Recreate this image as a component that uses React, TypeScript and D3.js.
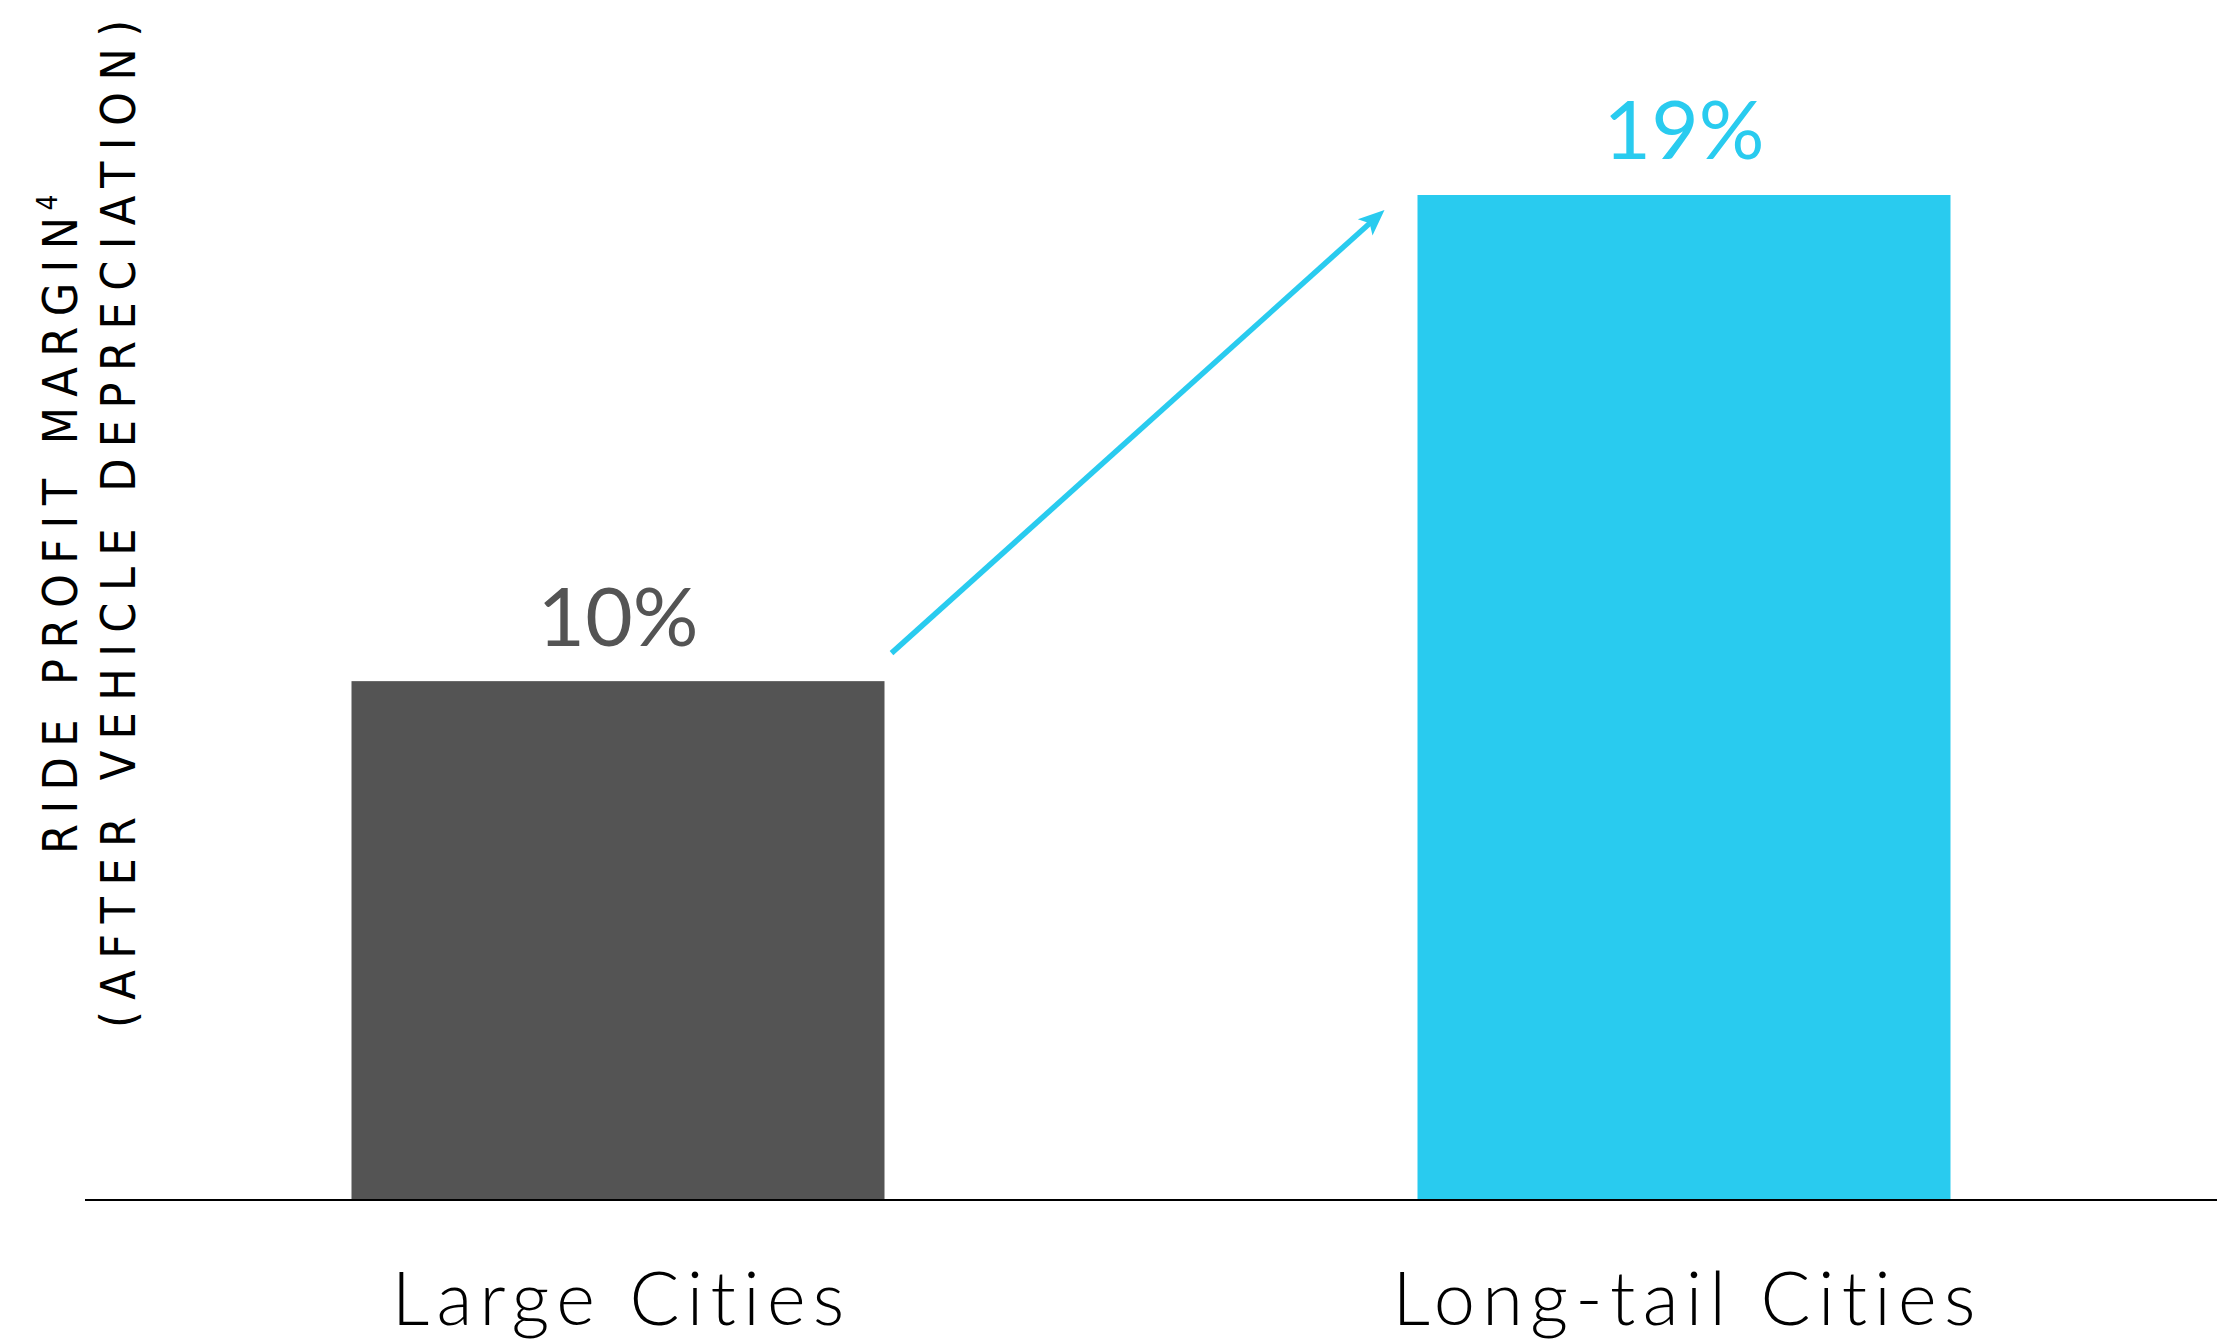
import React from "react";
import * as d3 from "d3";

const categories = ["Large Cities", "Long-tail Cities"];
const values = [9.8, 19];
const valueLabels = ["10%", "19%"];
const barColors = ["#545454", "#29CBEF"];
const yTitle1 = "RIDE PROFIT MARGIN";
const yTitle1Sup = "4";
const yTitle2 = "(AFTER VEHICLE DEPRECIATION)";

const W = 2234;
const H = 1341;

export default function App() {
  const x = d3.scaleBand<string>().domain(categories).range([85, 2217]).paddingInner(0.5).paddingOuter(0.25);
  const y = d3.scaleLinear().domain([0, 19]).range([1199, 195]);

  const b1x = x(categories[0])! + x.bandwidth();
  const b1y = y(values[0]);
  const b2x = x(categories[1])!;
  const b2y = y(values[1]);
  const start: [number, number] = [b1x + 7, b1y - 28];
  const tip: [number, number] = [b2x - 33, b2y + 15];
  const dx = tip[0] - start[0];
  const dy = tip[1] - start[1];
  const len = Math.hypot(dx, dy);
  const ux = dx / len, uy = dy / len;
  const nx = -uy, ny = ux;
  const hl = 26, hw = 11, notch = 6;
  const back: [number, number] = [tip[0] - ux * hl, tip[1] - uy * hl];
  const headPath = d3.line()([
    tip,
    [back[0] + nx * hw, back[1] + ny * hw],
    [tip[0] - ux * (hl - notch), tip[1] - uy * (hl - notch)],
    [back[0] - nx * hw, back[1] - ny * hw],
  ]) + "Z";
  const lineEnd: [number, number] = [tip[0] - ux * (hl - notch - 1), tip[1] - uy * (hl - notch - 1)];
  const catSpacing = 7.3;

  return (
    <svg width={W} height={H} style={{ position: "absolute", left: 0, top: 0, background: "#fff" }}>
      {categories.map((c, i) => (
        <rect key={c} x={x(c)} y={y(values[i])} width={x.bandwidth()} height={y(0) - y(values[i])} fill={barColors[i]} />
      ))}
      <line x1={85} x2={2217} y1={y(0) + 1} y2={y(0) + 1} stroke="#000" strokeWidth={2} />
      {categories.map((c, i) => (
        <text
          key={"v" + c}
          x={x(c)! + x.bandwidth() / 2}
          y={y(values[i]) - (i === 0 ? 35 : 36)}
          textAnchor="middle"
          fontFamily="Lato, 'Open Sans', sans-serif"
          fontSize={82}
          fill={barColors[i]}
        >
          {valueLabels[i]}
        </text>
      ))}
      {categories.map((c) => (
        <text
          key={"c" + c}
          x={x(c)! + x.bandwidth() / 2 + catSpacing / 2}
          y={1325}
          textAnchor="middle"
          fontFamily="Lato, 'Open Sans', sans-serif"
          fontWeight={300}
          fontSize={74}
          letterSpacing={catSpacing}
          style={{ fontVariantLigatures: "none" }}
          fill="#000"
        >
          {c}
        </text>
      ))}
      <line x1={start[0]} y1={start[1]} x2={lineEnd[0]} y2={lineEnd[1]} stroke={barColors[1]} strokeWidth={5.5} />
      <path d={headPath} fill={barColors[1]} />
      <g transform="translate(77,854) rotate(-90)">
        <text x={0} y={0} fontFamily="'Liberation Sans Narrow', 'DejaVu Sans Condensed', sans-serif" fontSize={48} fill="#000">
          <tspan textLength={637} lengthAdjust="spacing">{yTitle1}</tspan>
          <tspan fontSize={28} dy={-20} dx={-4}>{yTitle1Sup}</tspan>
        </text>
      </g>
      <g transform="translate(135,1028) rotate(-90)">
        <text x={0} y={0} textLength={1008} lengthAdjust="spacing" fontFamily="'Liberation Sans Narrow', 'DejaVu Sans Condensed', sans-serif" fontSize={48} fill="#000">
          {yTitle2}
        </text>
      </g>
    </svg>
  );
}
